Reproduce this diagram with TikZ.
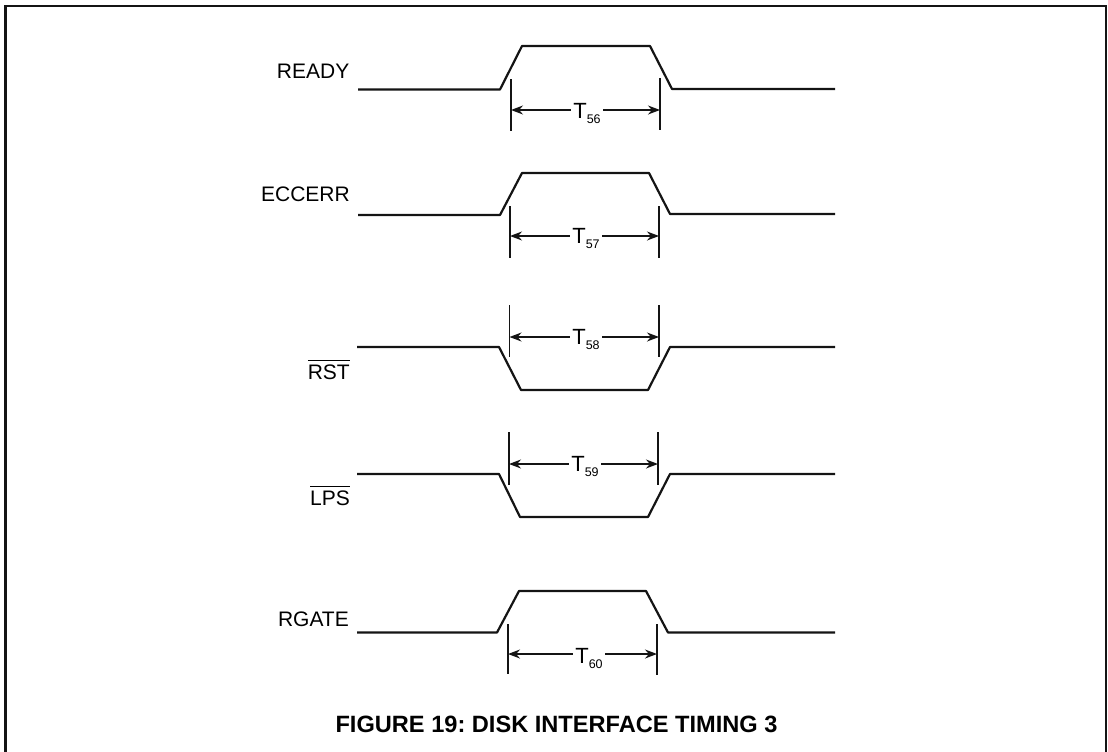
\documentclass[tikz,border=0pt]{standalone}
\usepackage{fontspec}
\setmainfont{Liberation Sans}
\usetikzlibrary{arrows.meta}
\tikzset{
  x=1pt,y=-1pt,
  wave/.style={line width=2.2pt,line join=round,black!92},
  tick/.style={line width=1.2pt,black!92},
  dim/.style={line width=1.4pt,black!92,{Stealth[length=12pt,width=9pt]}-{Stealth[length=12pt,width=9pt]}},
  sig/.style={inner sep=0pt,anchor=base east,font=\fontsize{21}{23}\selectfont},
  tlab/.style={fill=white,inner sep=2pt,anchor=base,font=\fontsize{22}{24}\selectfont},
}
\newcommand{\tsub}[1]{T\raisebox{-5pt}{\fontsize{12.5}{13}\selectfont #1}}
\newcommand{\ovl}[1]{\vbox{\hrule height 1pt\kern 3.5pt\hbox{#1}}}
\begin{document}
\frenchspacing
\begin{tikzpicture}
\useasboundingbox (0,0) rectangle (1108,752);
\draw[line width=2.5pt,black!92] (5.5,760) -- (5.5,6) -- (1106,6) -- (1106,760);
% READY
\node[sig] (l1) at (349.5,78) {READY};
\coordinate (a1) at (358,89.5);\coordinate (z1) at (835,89);
\draw[wave] (a1) -- (500,89.5) -- (522,46) -- (650,46) -- (672,89) -- (z1);
\coordinate (t1a) at (511,79);\coordinate (t1b) at (511,131);\coordinate (t1c) at (660,78);\coordinate (t1d) at (660,130);
\draw[tick] (t1a) -- (t1b) (t1c) -- (t1d);
\coordinate (d1a) at (511,110);\coordinate (d1b) at (660,110);
\draw[dim] (d1a) -- (d1b);
\node[tlab] (n1) at (587,118) {\tsub{56}};
% ECCERR
\node[sig] (l2) at (350,201) {ECCERR};
\coordinate (a2) at (358,215);\coordinate (z2) at (835,214);
\draw[wave] (a2) -- (500,215) -- (522,173) -- (649,173) -- (670,214) -- (z2);
\coordinate (t2a) at (510,206);\coordinate (t2b) at (510,258);\coordinate (t2c) at (659,206);\coordinate (t2d) at (659,258);
\draw[tick] (t2a) -- (t2b) (t2c) -- (t2d);
\coordinate (d2a) at (510,236);\coordinate (d2b) at (659,236);
\draw[dim] (d2a) -- (d2b);
\node[tlab] (n2) at (586,243) {\tsub{57}};
% RST
\node[sig] (l3) at (350,379) {\ovl{RST}};
\coordinate (a3) at (357,347);\coordinate (z3) at (835,347);
\draw[wave] (a3) -- (499,347) -- (521,390) -- (648,390) -- (670,347) -- (z3);
\coordinate (t3a) at (509.5,305);\coordinate (t3b) at (509.5,357);\coordinate (t3c) at (659,305);\coordinate (t3d) at (659,357);
\draw[tick] (t3a) -- (t3b) (t3c) -- (t3d);
\coordinate (d3a) at (509.5,337);\coordinate (d3b) at (659,337);
\draw[dim] (d3a) -- (d3b);
\node[tlab] (n3) at (586,344) {\tsub{58}};
% LPS
\node[sig] (l4) at (350,505) {\ovl{LPS}};
\coordinate (a4) at (357,474);\coordinate (z4) at (835,474);
\draw[wave] (a4) -- (499,474) -- (520,517) -- (648,517) -- (670,474) -- (z4);
\coordinate (t4a) at (509,432);\coordinate (t4b) at (509,485);\coordinate (t4c) at (658,432);\coordinate (t4d) at (658,485);
\draw[tick] (t4a) -- (t4b) (t4c) -- (t4d);
\coordinate (d4a) at (509,464);\coordinate (d4b) at (658,464);
\draw[dim] (d4a) -- (d4b);
\node[tlab] (n4) at (585,471) {\tsub{59}};
% RGATE
\node[sig] (l5) at (349,626) {RGATE};
\coordinate (a5) at (357,632.5);\coordinate (z5) at (835,632.5);
\draw[wave] (a5) -- (497,632.5) -- (519,591) -- (646,591) -- (668,632.5) -- (z5);
\coordinate (t5a) at (508,624);\coordinate (t5b) at (508,674);\coordinate (t5c) at (657,624);\coordinate (t5d) at (657,675);
\draw[tick] (t5a) -- (t5b) (t5c) -- (t5d);
\coordinate (d5a) at (508,654);\coordinate (d5b) at (657,654);
\draw[dim] (d5a) -- (d5b);
\node[tlab] (n5) at (589,663) {\tsub{60}};
\node[inner sep=0pt,anchor=base,font=\bfseries\fontsize{23.6}{25}\selectfont] (cap) at (556.5,732) {FIGURE 19: DISK INTERFACE TIMING 3};
\end{tikzpicture}
\end{document}
